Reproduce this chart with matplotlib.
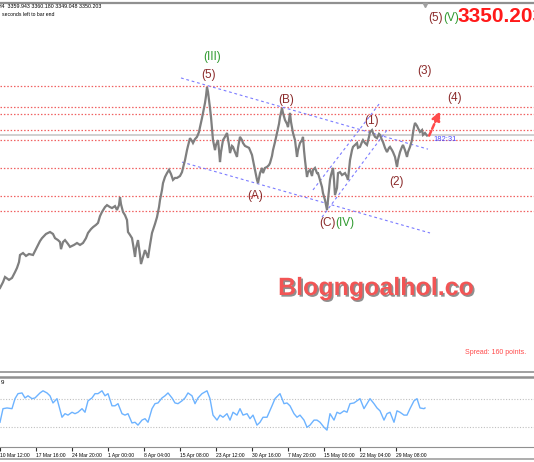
import matplotlib
matplotlib.use("Agg")
import matplotlib.pyplot as plt
import matplotlib.patheffects as pe

plt.rcParams['font.family'] = ['Liberation Sans', 'DejaVu Sans']

# H4 bars (index) and closes
PRICE_BARS = [0, 3, 5, 9, 12, 15, 17, 19, 20, 23,
              26, 29, 33, 37, 40, 42, 46, 50, 53, 55,
              58, 60, 61, 63, 65, 68, 70, 74, 77, 80,
              83, 86, 88, 91, 93, 96, 98, 100, 102, 105,
              107, 110, 112, 115, 117, 119, 120, 121, 123, 125,
              127, 128, 130, 132, 134, 135, 136, 138, 140, 141,
              143, 145, 147, 148, 150, 152, 155, 157, 159, 160,
              162, 163, 165, 167, 169, 171, 173, 175, 177, 180,
              182, 183, 185, 187, 188, 190, 192, 193, 195, 197,
              199, 200, 202, 203, 205, 206, 207, 208, 209, 210,
              211, 212, 213, 215, 216, 218, 219, 220, 221, 223,
              225, 227, 229, 230, 232, 233, 235, 237, 238, 240,
              242, 243, 245, 247, 249, 250, 252, 253, 255, 257,
              258, 260, 262, 263, 265, 267, 269, 270, 272, 273,
              275, 277, 279, 280, 282, 283, 285, 287, 288, 290,
              291, 293, 295, 297, 298, 300, 302, 303, 304, 305,
              307, 308, 310, 312, 313, 315, 317, 318, 320, 322,
              323, 325, 327, 328, 330, 331, 333, 334, 335, 337,
              338, 340, 342, 345, 347, 348, 350, 352, 353, 355,
              357, 358, 360, 362, 363, 365, 367, 369, 370, 372,
              373, 375, 377, 379, 380, 382, 383, 385, 387, 389,
              390, 392, 393, 395, 397, 398, 400, 402, 403, 405,
              407, 408, 410, 412, 413, 414, 415, 417, 418, 420,
              422, 423, 425, 427]
PRICE = [2879, 2897, 2913, 2904, 2910, 2928, 2941, 2959, 2981, 2987,
         2978, 2984, 2981, 3006, 3024, 3033, 3046, 3052, 3046, 3033,
         3027, 3021, 2999, 3021, 3027, 3015, 3006, 3012, 3018, 3012,
         3018, 3033, 3049, 3061, 3067, 3074, 3080, 3101, 3114, 3129,
         3135, 3129, 3126, 3132, 3120, 3135, 3160, 3138, 3114, 3104,
         3089, 3052, 3043, 3033, 2996, 2975, 3002, 3027, 2981, 2953,
         2975, 2996, 2981, 2972, 3012, 3049, 3077, 3098, 3129, 3151,
         3182, 3203, 3222, 3234, 3244, 3231, 3213, 3219, 3219, 3225,
         3237, 3250, 3274, 3305, 3318, 3342, 3333, 3327, 3339, 3346,
         3361, 3376, 3404, 3420, 3451, 3472, 3500, 3485, 3460, 3435,
         3407, 3373, 3336, 3305, 3321, 3336, 3305, 3268, 3299, 3336,
         3346, 3358, 3321, 3296, 3318, 3315, 3299, 3284, 3312, 3346,
         3336, 3327, 3318, 3315, 3312, 3305, 3290, 3274, 3244, 3213,
         3203, 3234, 3250, 3234, 3250, 3253, 3259, 3265, 3287, 3305,
         3330, 3358, 3386, 3407, 3435, 3420, 3398, 3386, 3376, 3420,
         3392, 3358, 3336, 3284, 3305, 3327, 3336, 3346, 3305, 3274,
         3222, 3237, 3244, 3225, 3244, 3250, 3234, 3234, 3213, 3191,
         3172, 3151, 3120, 3151, 3213, 3228, 3250, 3213, 3166, 3188,
         3234, 3237, 3228, 3234, 3222, 3213, 3274, 3305, 3315, 3321,
         3327, 3312, 3315, 3330, 3336, 3327, 3321, 3346, 3361, 3367,
         3358, 3346, 3342, 3355, 3352, 3336, 3330, 3312, 3299, 3312,
         3315, 3305, 3299, 3284, 3253, 3274, 3299, 3315, 3321, 3305,
         3284, 3299, 3315, 3336, 3358, 3376, 3389, 3380, 3373, 3361,
         3367, 3352, 3358, 3350]

RSI_BARS = [0, 3, 7, 12, 15, 18, 22, 25, 28, 32,
            35, 40, 43, 47, 50, 53, 57, 62, 65, 68,
            72, 75, 78, 82, 85, 88, 92, 95, 98, 102,
            105, 108, 112, 115, 118, 122, 125, 128, 132, 135,
            138, 142, 145, 148, 152, 155, 158, 162, 165, 168,
            172, 175, 178, 182, 185, 188, 192, 195, 198, 202,
            207, 210, 213, 217, 220, 223, 227, 230, 233, 237,
            240, 243, 247, 250, 253, 257, 260, 263, 267, 272,
            275, 280, 284, 287, 290, 294, 297, 300, 304, 307,
            310, 314, 317, 320, 324, 327, 330, 334, 337, 340,
            344, 347, 350, 354, 357, 360, 364, 367, 370, 374,
            377, 380, 384, 387, 390, 394, 397, 400, 404, 407,
            410, 414, 417, 420, 424, 425]
RSI = [37, 56, 57, 56, 70, 77, 78, 71, 74, 70,
       71, 78, 81, 78, 74, 64, 70, 44, 49, 47,
       51, 49, 51, 56, 51, 67, 71, 77, 77, 81,
       74, 77, 60, 60, 63, 49, 47, 49, 36, 37,
       33, 40, 42, 37, 56, 63, 64, 71, 74, 78,
       71, 64, 63, 67, 71, 78, 74, 63, 71, 77,
       81, 70, 47, 40, 47, 44, 49, 40, 51, 47,
       56, 47, 49, 42, 47, 33, 37, 44, 44, 60,
       70, 77, 63, 64, 60, 49, 44, 47, 40, 30,
       33, 40, 40, 37, 30, 26, 49, 40, 51, 49,
       53, 51, 63, 64, 67, 70, 56, 63, 70, 63,
       57, 53, 40, 49, 51, 37, 53, 51, 47, 47,
       56, 67, 70, 57, 56, 57]
RSI_LEVELS = [70, 30]

LEVELS = [3504, 3437, 3417, 3367, 3335, 3249, 3164, 3117]
BID = 3350.203

# trend lines: (bar0, price0, bar1, price1)
TRENDLINES = [(181, 3528, 428, 3308),
              (182, 3268, 430, 3049),
              (313, 3182, 380, 3451),
              (322, 3098, 387, 3367)]

DARK_RED = '#8b2a2a'
GREEN = '#2f9a2f'
WAVE_LABELS = [("(III)", 212, 3593, GREEN),
               ("(5)", 209, 3537, DARK_RED),
               ("(B)", 286, 3460, DARK_RED),
               ("(A)", 255, 3163, DARK_RED),
               ("(C)", 328, 3080, DARK_RED),
               ("(IV)", 345, 3080, GREEN),
               ("(1)", 372, 3395, DARK_RED),
               ("(2)", 397, 3206, DARK_RED),
               ("(3)", 424, 3549, DARK_RED),
               ("(4)", 455, 3466, DARK_RED),
               ("(5)", 436, 3713, DARK_RED),
               ("(V)", 451, 3713, GREEN)]

TICK_BARS = [0, 36, 72, 108, 144, 180, 216, 252, 288, 324, 360, 396]
TICK_LABELS = ["10 Mar 12:00", "17 Mar 16:00", "24 Mar 20:00", "1 Apr 00:00",
               "8 Apr 04:00", "15 Apr 08:00", "23 Apr 12:00", "30 Apr 16:00",
               "7 May 20:00", "15 May 00:00", "22 May 04:00", "29 May 08:00"]

W, H = 534, 462
fig = plt.figure(figsize=(W / 100, H / 100), dpi=100)
fig.patch.set_facecolor('white')


def fy(px):
    return 1 - px / H


ax = fig.add_axes([0, fy(372), 1, (372 - 3) / H])
ax2 = fig.add_axes([0, fy(447), 1, (447 - 377) / H])

for a in (ax, ax2):
    a.set_xlim(0, W)
    a.set_yticks([])
    for s in a.spines.values():
        s.set_color('#909090')
    a.spines['left'].set_visible(False)
    a.spines['right'].set_visible(False)
ax.spines['top'].set_linewidth(1.6)
ax.spines['bottom'].set_linewidth(1.2)
ax2.spines['top'].set_linewidth(1.8)
ax.set_ylim(2619.4, 3759.6)
ax.set_xticks([])

for lv in LEVELS:
    ax.axhline(lv, color='#f06060', lw=0.9, ls=(0, (1.2, 1.5)), zorder=1)
ax.axhline(BID, color='#c8c8c8', lw=1.2, zorder=1)

for b0, p0, b1, p1 in TRENDLINES:
    ax.plot([b0, b1], [p0, p1], color='#7b7bff', lw=0.8, ls=(0, (2.5, 2.5)), zorder=2)

ax.plot(PRICE_BARS, PRICE, color='#7f7f7f', lw=1.6, zorder=3, solid_joinstyle='miter')

for txt, b, p, c in WAVE_LABELS:
    ax.text(b, p, txt, color=c, fontsize=8.5, ha='center', va='center', zorder=5)

ax.annotate("", xy=(441, 3432), xytext=(428, 3342),
            arrowprops=dict(arrowstyle='-|>,head_length=0.5,head_width=0.25',
                            color='#ff4a4a', lw=1.8, ls=(0, (2, 1))), zorder=6)
ax.text(433, 3337, "182:31", color='#4a4aff', fontsize=5.5, va='center', ha='left')

ax.text(457, 3717, "3350.203", color='#ff1a1a', fontsize=15, fontweight='bold',
        va='center', ha='left', zorder=6)
ax.plot([425], [3752], marker='v', color='#a0a0a0', ms=3, zorder=6, clip_on=False)

fig.text(-2 / W, fy(7), "H4  3359.943 3360.180 3349.048 3350.203", fontsize=3.8,
         va='center', ha='left')
fig.text(2 / W, fy(14), "seconds left to bar end", fontsize=3.7, va='center', ha='left')

fig.text(376 / W, fy(288), "Blogngoalhol.co", color='#f25555', fontsize=18,
         fontweight='bold', ha='center', va='center',
         path_effects=[pe.withSimplePatchShadow(offset=(1.2, -1.2),
                                               shadow_rgbFace='#606060', alpha=0.7)])
fig.text(526 / W, fy(353), "Spread: 160 points.", color='#ff4a4a', fontsize=5.0,
         ha='right', va='center')

# oscillator panel
ax2.set_ylim(2.4, 100.3)
for lv in RSI_LEVELS:
    ax2.axhline(lv, color='#c0c0c0', lw=0.8, ls=(0, (1, 1.5)))
ax2.plot(RSI_BARS, RSI, color='#6db3ff', lw=1.0)
ax2.text(1, 92, "9", fontsize=4.5, va='center', ha='left')
ax2.set_xticks(TICK_BARS)
ax2.set_xticklabels(TICK_LABELS, fontsize=3.6, ha='left')
ax2.tick_params(axis='x', length=3, width=0.8, pad=1.5, color='#303030')

fig.add_artist(plt.Line2D([0, 1], [fy(459), fy(459)], color='#a0a0a0', lw=1.2))

fig.savefig("out.png", dpi=100)
